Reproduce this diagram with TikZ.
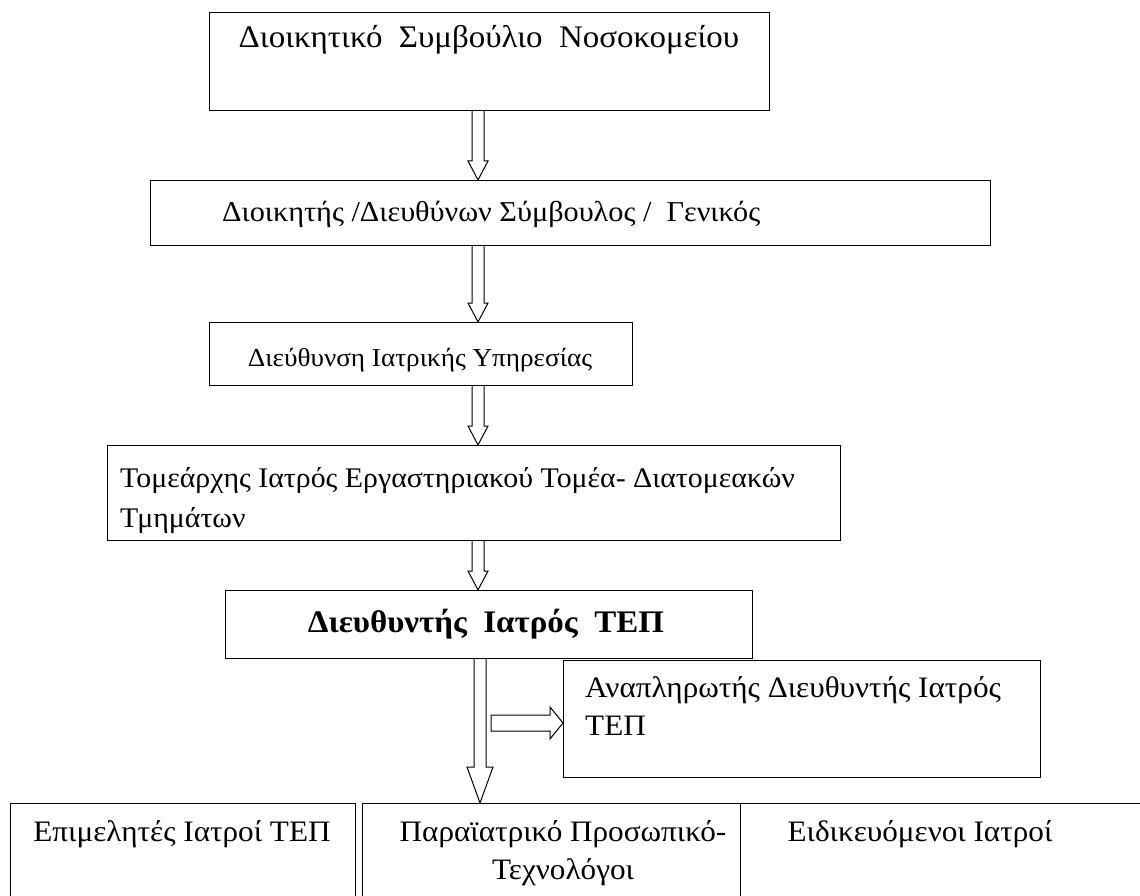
\documentclass[tikz,border=0pt]{standalone}
\usepackage{fontspec}
\setmainfont[FakeStretch=1.05]{Liberation Serif}
\usetikzlibrary{calc}
\begin{document}
\begin{tikzpicture}[x=1pt,y=1pt,
  box/.style={draw, line width=1.2pt, rectangle, inner sep=0pt, anchor=north west},
  txt/.style={inner sep=0pt, font=\fontsize{29.7}{38}\selectfont},
  bigtxt/.style={inner sep=0pt, font=\fontsize{31.4}{38}\selectfont},
  blk/.style={draw, line width=1pt, fill=white, line join=miter}]
\useasboundingbox (0,0) rectangle (1140,-896);
% boxes
\node[box, minimum width=560pt, minimum height=98pt] (b1) at (209,-12) {};
\node[box, minimum width=840pt, minimum height=65pt] (b2) at (150,-180) {};
\node[box, minimum width=423pt, minimum height=63pt] (b3) at (209,-322) {};
\node[box, minimum width=733pt, minimum height=95pt] (b4) at (107,-445) {};
\node[box, minimum width=527pt, minimum height=68pt] (b5) at (225,-590) {};
\node[box, minimum width=477pt, minimum height=117pt] (b6) at (563,-660) {};
\node[box, minimum width=345pt, minimum height=100pt] (b7) at (10,-803) {};
\node[box, minimum width=378pt, minimum height=100pt] (b8) at (362,-803) {};
\node[box, minimum width=402pt, minimum height=100pt] (b9) at (740,-803) {};
% texts
\node[bigtxt, anchor=base] (t1) at (489,-48) {Διοικητικό\ \ Συμβούλιο\ \ Νοσοκομείου};
\node[txt, anchor=base west, font=\fontsize{28.8}{38}\selectfont] (t2) at (222,-222) {Διοικητής /Διευθύνων Σύμβουλος /\ \ Γενικός};
\node[txt, anchor=base, font=\fontsize{25.9}{38}\selectfont] (t3) at (420,-366) {Διεύθυνση Ιατρικής Υπηρεσίας};
\node[txt, anchor=base west, font=\fontsize{28.4}{38}\selectfont] (t4a) at (120,-487) {Τομεάρχης Ιατρός Εργαστηριακού Τομέα- Διατομεακών};
\node[txt, anchor=base west, font=\fontsize{28.4}{38}\selectfont] (t4b) at (120,-527) {Τμημάτων};
\node[bigtxt, anchor=base, font=\fontsize{31.4}{38}\selectfont\bfseries] (t5) at (486,-632) {Διευθυντής\ \ Ιατρός\ \ ΤΕΠ};
\node[txt, anchor=base west] (t6a) at (585,-697) {Αναπληρωτής Διευθυντής Ιατρός};
\node[txt, anchor=base west] (t6b) at (585,-735) {ΤΕΠ};
\node[txt, anchor=base] (t7) at (182,-841) {Επιμελητές Ιατροί ΤΕΠ};
\node[txt, anchor=base] (t8a) at (563,-841) {Παραϊατρικό Προσωπικό-};
\node[txt, anchor=base] (t8b) at (563,-879) {Τεχνολόγοι};
\node[txt, anchor=base] (t9) at (920,-841) {Ειδικευόμενοι Ιατροί};
% block arrows
\coordinate (ax) at (478,0);
\newcommand\downarr[5]{%
  \draw[blk] ($(ax|-#1.south)+(-#3,0)$) -- ($(ax|-#2.north)+(-#3,#5)$) -- ++(-#4,0)
    -- (ax|-#2.north) -- ($(ax|-#2.north)+(#3+#4,#5)$) -- ++(-#4,0)
    -- ($(ax|-#1.south)+(#3,0)$);}
\downarr{b1}{b2}{6}{4}{19}
\downarr{b2}{b3}{6}{4}{19}
\downarr{b3}{b4}{6}{4}{19}
\downarr{b4}{b5}{6}{4}{19}
\coordinate (ax) at (480,0);
\downarr{b5}{b8}{6}{7}{36}
\coordinate (h0) at (491,-723);
\draw[blk] ($(h0)+(0,8)$) -- ($(b6.west|-h0)+(-13,8)$) -- ++(0,8) -- (b6.west|-h0)
  -- ($(b6.west|-h0)+(-13,-16)$) -- ++(0,8) -- ($(h0)+(0,-8)$) -- cycle;
\end{tikzpicture}
\end{document}
